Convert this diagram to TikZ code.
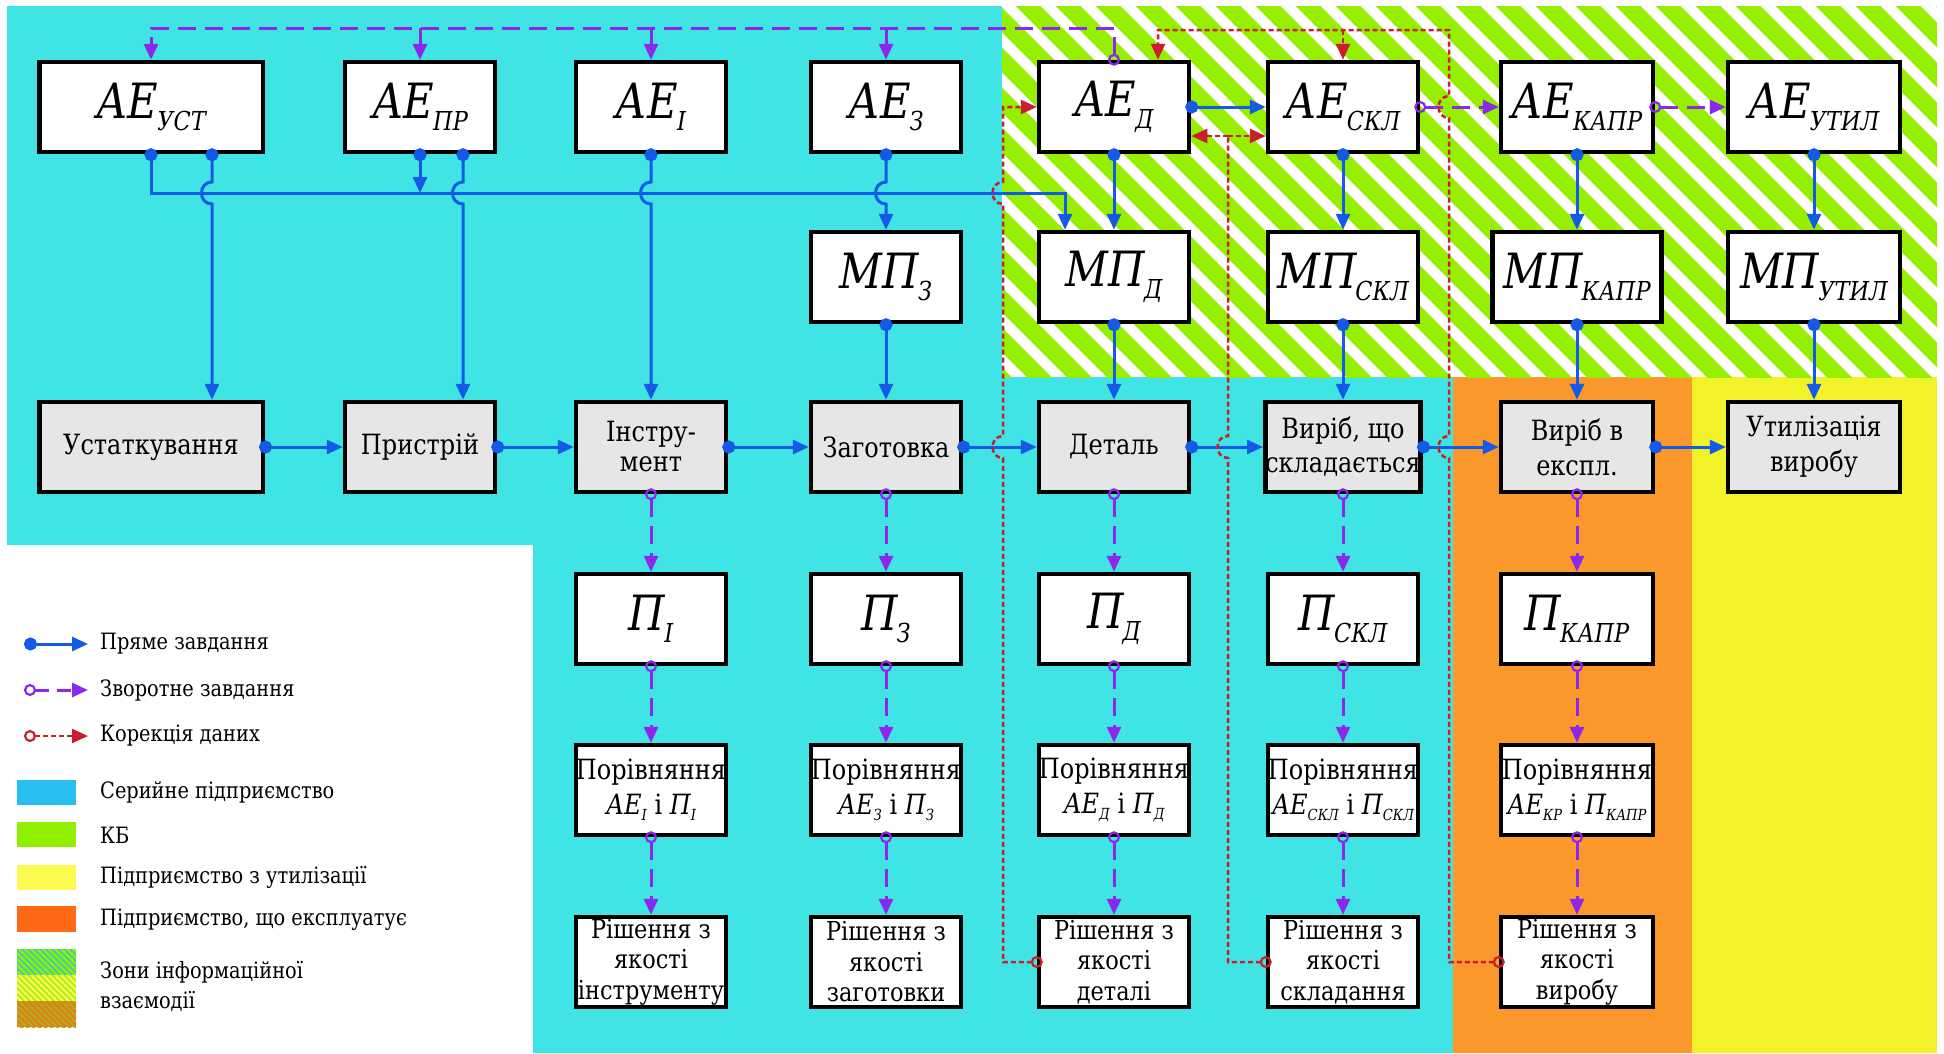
\documentclass[tikz,border=0pt]{standalone}
\usepackage{fontspec}
\setmainfont{DejaVu Serif}[Scale=0.9, FakeStretch=0.86]
\usetikzlibrary{arrows.meta,calc}

\definecolor{cyanbg}{RGB}{64,228,228}
\definecolor{hatchgreen}{RGB}{150,238,0}
\definecolor{orangebg}{RGB}{250,152,44}
\definecolor{yellowbg}{RGB}{242,242,42}
\definecolor{boxgrey}{RGB}{230,230,230}
\definecolor{linkblue}{RGB}{20,90,230}
\definecolor{linkpurple}{RGB}{140,40,235}
\definecolor{linkred}{RGB}{200,30,45}
\definecolor{legblue}{RGB}{40,190,240}
\definecolor{leggreen}{RGB}{145,240,0}
\definecolor{legyellow}{RGB}{250,250,80}
\definecolor{legorange}{RGB}{255,105,20}
\definecolor{legolive}{RGB}{175,170,30}

% large italic symbol with an italic index
\newcommand\bigidx[2]{{\fontsize{54}{54}\selectfont\itshape #1}\kern-1pt\raisebox{-12pt}{\fontsize{29}{29}\selectfont\itshape #2}}
% small italic symbol with an italic index
\newcommand\smallidx[2]{{\itshape #1}\raisebox{-6pt}{\fontsize{17}{17}\selectfont\itshape #2}}

\tikzset{
  bdot/.tip={Circle[length=13pt]},
  oring/.tip={Circle[open,length=12pt,line width=2.2pt]},
  thead/.tip={Triangle[length=16pt,width=14pt]},
}

\begin{document}
\begin{tikzpicture}[x=1pt,y=-1pt,
  box/.style={draw=black, line width=4.5pt, fill=white, minimum width=150pt,
    minimum height=90pt, inner sep=0pt, align=center, font=\fontsize{31}{35}\selectfont},
  procbox/.style={box, fill=boxgrey},
  decbox/.style={box, font=\fontsize{29}{30.5}\selectfont},
  legtext/.style={anchor=west, inner sep=0pt, font=\fontsize{25}{28}\selectfont},
  blueflow/.style={draw=linkblue, line width=3pt},
  purpleflow/.style={draw=linkpurple, line width=3pt, dash pattern=on 18pt off 9pt},
  purplesolid/.style={draw=linkpurple, line width=3pt},
  redflow/.style={draw=linkred, line width=2.5pt, dash pattern=on 5pt off 3pt},
  startpad/.style={shorten <=-6pt},
]
\useasboundingbox (0,0) rectangle (1944,1053);

% ---------- zones ----------
\fill[cyanbg] (7,6) -- (1002,6) -- (1002,377) -- (1453,377) -- (1453,1053)
  -- (533,1053) -- (533,545) -- (7,545) -- cycle;
\fill[orangebg] (1453,377) rectangle (1692,1053);
\fill[yellowbg] (1692,377) rectangle (1937,1053);
\begin{scope}
  \clip (1002,6) rectangle (1937,377);
  \fill[white] (1002,6) rectangle (1937,377);
  \foreach \i in {-12,...,25}
    \draw[hatchgreen, line width=17.5pt] ({1002+40*\i},-20) -- ++(440,440);
\end{scope}

% ---------- row 1: reference units ----------
\node[box, minimum width=223.5pt] (aeU) at (151,107) {\bigidx{АЕ}{УСТ}};
\node[box] (aePR) at (420,107) {\bigidx{АЕ}{ПР}};
\node[box] (aeI) at (651,107) {\bigidx{АЕ}{І}};
\node[box] (aeZ) at (886,107) {\bigidx{АЕ}{З}};
\node[box] (aeD) at (1114,107) {\bigidx{АЕ}{Д}};
\node[box] (aeS) at (1343,107) {\bigidx{АЕ}{СКЛ}};
\node[box, minimum width=152pt] (aeK) at (1577,107) {\bigidx{АЕ}{КАПР}};
\node[box, minimum width=172pt] (aeT) at (1814,107) {\bigidx{АЕ}{УТИЛ}};

% ---------- row 2: models ----------
\node[box] (mpZ) at (886,277) {\bigidx{МП}{З}};
\node[box] (mpD) at (1114,277) {\bigidx{МП}{Д}};
\node[box] (mpS) at (1343,277) {\bigidx{МП}{СКЛ}};
\node[box, minimum width=169pt] (mpK) at (1577,277) {\bigidx{МП}{КАПР}};
\node[box, minimum width=172pt] (mpT) at (1814,277) {\bigidx{МП}{УТИЛ}};

% ---------- row 3: objects ----------
\node[procbox, minimum width=223.5pt] (pU) at (151,447) {Устаткування};
\node[procbox] (pPR) at (420,447) {Пристрій};
\node[procbox] (pI) at (651,447) {Інстру-\\[-5pt]мент};
\node[procbox] (pZ) at (886,447) {Заготовка};
\node[procbox] (pD) at (1114,447) {Деталь};
\node[procbox] (pS) at (1343,447) {Виріб, що\\[-1pt]складається};
\node[procbox, minimum width=152pt] (pK) at (1577,447) {Виріб в\\експл.};
\node[procbox, minimum width=172pt] (pT) at (1814,447) {Утилізація\\виробу};

% ---------- row 4: parameters ----------
\node[box] (tI) at (651,619) {\bigidx{П}{І}};
\node[box] (tZ) at (886,619) {\bigidx{П}{З}};
\node[box] (tD) at (1114,619) {\bigidx{П}{Д}};
\node[box] (tS) at (1343,619) {\bigidx{П}{СКЛ}};
\node[box, minimum width=152pt] (tK) at (1577,619) {\bigidx{П}{КАПР}};

% ---------- row 5: comparisons ----------
\node[box] (cI) at (651,790) {Порівняння\\\smallidx{АЕ}{І} і \smallidx{П}{І}};
\node[box] (cZ) at (886,790) {Порівняння\\\smallidx{АЕ}{З} і \smallidx{П}{З}};
\node[box] (cD) at (1114,790) {Порівняння\\\smallidx{АЕ}{Д} і \smallidx{П}{Д}};
\node[box] (cS) at (1343,790) {Порівняння\\\smallidx{АЕ}{СКЛ} і \smallidx{П}{СКЛ}};
\node[box, minimum width=152pt] (cK) at (1577,790) {Порівняння\\\smallidx{АЕ}{КР} і \smallidx{П}{КАПР}};

% ---------- row 6: decisions ----------
\node[decbox] (dI) at (651,962) {Рішення з\\якості\\інструменту};
\node[decbox] (dZ) at (886,962) {Рішення з\\якості\\заготовки};
\node[decbox] (dD) at (1114,962) {Рішення з\\якості\\деталі};
\node[decbox] (dS) at (1343,962) {Рішення з\\якості\\складання};
\node[decbox, minimum width=152pt] (dK) at (1577,962) {Рішення з\\якості\\виробу};

% ---------- routing points ----------
\coordinate (busY) at (0,193);
\coordinate (topP) at (0,28);
\coordinate (topR) at (0,30);
\coordinate (busEnd) at ([xshift=-49pt]mpD.north);
\coordinate (uA) at ([xshift=61pt]aeU.south);
\coordinate (uB) at ([xshift=61pt]pU.north);
\coordinate (prA) at ([xshift=43pt]aePR.south);
\coordinate (prB) at ([xshift=43pt]pPR.north);
\coordinate (rA) at (1003,0);
\coordinate (rB) at (1228,0);
\coordinate (rC) at (1449,0);
\coordinate (rJ) at (1228,136);
\coordinate (rD) at ([xshift=44pt]aeD.north);

% ---------- direct tasks (blue) ----------
\draw[blueflow, bdot-thead, startpad] (aeU.south) -- (aeU.south |- busY)
  -- (busEnd |- busY) -- (busEnd);
\draw[blueflow, bdot-thead, startpad] (aePR.south) -- (aePR.south |- busY);
\draw[blueflow, bdot-thead, startpad] (uA) -- ($(uA |- busY)+(0,-11)$)
  .. controls +(-14,0) and +(-14,0) .. ($(uA |- busY)+(0,11)$) -- (uB);
\draw[blueflow, bdot-thead, startpad] (prA) -- ($(prA |- busY)+(0,-11)$)
  .. controls +(-14,0) and +(-14,0) .. ($(prA |- busY)+(0,11)$) -- (prB);
\draw[blueflow, bdot-thead, startpad] (aeI.south) -- ($(aeI.south |- busY)+(0,-11)$)
  .. controls +(-14,0) and +(-14,0) .. ($(aeI.south |- busY)+(0,11)$) -- (pI.north);
\draw[blueflow, bdot-thead, startpad] (aeZ.south) -- ($(aeZ.south |- busY)+(0,-11)$)
  .. controls +(-14,0) and +(-14,0) .. ($(aeZ.south |- busY)+(0,11)$) -- (mpZ.north);
\foreach \a/\b in {mpZ/pZ, aeD/mpD, mpD/pD, aeS/mpS, mpS/pS, aeK/mpK, mpK/pK, aeT/mpT, mpT/pT}
  \draw[blueflow, bdot-thead, startpad] (\a.south) -- (\b.north);
\foreach \a/\b in {pU/pPR, pPR/pI, pI/pZ, pZ/pD, pD/pS, pS/pK, pK/pT, aeD/aeS}
  \draw[blueflow, bdot-thead, startpad] (\a.east) -- (\b.west);

% ---------- inverse tasks (purple) ----------
\draw[purpleflow, oring-thead, startpad] (aeD.north) -- (aeD.north |- topP)
  -- (aeU.north |- topP) -- (aeU.north);
\foreach \n in {aePR, aeI, aeZ}
  \draw[purplesolid, -thead] (\n.north |- topP) -- (\n.north);
\draw[purpleflow, oring-thead, startpad] (aeS.east) -- (aeK.west);
\draw[purpleflow, oring-thead, startpad] (aeK.east) -- (aeT.west);
\foreach \a/\b in {pI/tI, tI/cI, cI/dI, pZ/tZ, tZ/cZ, cZ/dZ, pD/tD, tD/cD, cD/dD,
                   pS/tS, tS/cS, cS/dS, pK/tK, tK/cK, cK/dK}
  \draw[purpleflow, oring-thead, startpad] (\a.south) -- (\b.north);

% ---------- data correction (red) ----------
\draw[redflow, oring-thead, startpad] (dD.west) -- (dD.west -| rA)
  -- ($(rA |- pD.west)+(0,11)$) .. controls +(-14,0) and +(-14,0) .. ($(rA |- pD.west)+(0,-11)$)
  -- ($(rA |- busY)+(0,11)$) .. controls +(-14,0) and +(-14,0) .. ($(rA |- busY)+(0,-11)$)
  -- (rA |- aeD.west) -- (aeD.west);
\draw[redflow, oring-, startpad] (dS.west) -- (dS.west -| rB)
  -- ($(rB |- pS.west)+(0,11)$) .. controls +(-14,0) and +(-14,0) .. ($(rB |- pS.west)+(0,-11)$)
  -- (rJ);
\draw[redflow, -thead] (rJ) -- (aeD.east |- rJ);
\draw[redflow, -thead] (rJ) -- (aeS.west |- rJ);
\draw[redflow, oring-thead, startpad] (dK.west) -- (dK.west -| rC)
  -- ($(rC |- pK.west)+(0,11)$) .. controls +(-14,0) and +(-14,0) .. ($(rC |- pK.west)+(0,-11)$)
  -- ($(rC |- aeK.west)+(0,11)$) .. controls +(-14,0) and +(-14,0) .. ($(rC |- aeK.west)+(0,-11)$)
  -- (rC |- topR) -- (rD |- topR) -- (rD);
\draw[redflow, -thead] (aeS.north |- topR) -- (aeS.north);

% ---------- legend ----------
\coordinate (lgA1) at (24,644);  \coordinate (lgA2) at (88,644);
\coordinate (lgB1) at (24,690);  \coordinate (lgB2) at (88,690);
\coordinate (lgC1) at (24,736);  \coordinate (lgC2) at (88,736);
\draw[blueflow, bdot-thead] (lgA1) -- (lgA2);
\draw[draw=linkpurple, line width=3pt, dash pattern=on 14pt off 8pt, oring-thead] (lgB1) -- (lgB2);
\draw[redflow, oring-thead] (lgC1) -- (lgC2);
\node[legtext] (ltA) at (100,644) {Пряме завдання};
\node[legtext] (ltB) at (100,690) {Зворотне завдання};
\node[legtext] (ltC) at (100,736) {Корекція даних};

\fill[legblue] (17,780) rectangle (76,805);
\fill[leggreen] (17,822) rectangle (76,847);
\fill[legyellow] (17,865) rectangle (76,890);
\fill[legorange] (17,906) rectangle (76,932);
\begin{scope}
  \clip (17,949) rectangle (76,975);
  \fill[legblue] (17,949) rectangle (76,975);
  \foreach \k in {0,...,16} \draw[leggreen, line width=2.5pt] ({-20+6*\k},940) -- ++(45,45);
\end{scope}
\begin{scope}
  \clip (17,975) rectangle (76,1001);
  \fill[leggreen] (17,975) rectangle (76,1001);
  \foreach \k in {0,...,16} \draw[legyellow, line width=2.5pt] ({-20+6*\k},966) -- ++(45,45);
\end{scope}
\begin{scope}
  \clip (17,1001) rectangle (76,1027);
  \fill[legorange] (17,1001) rectangle (76,1027);
  \foreach \k in {0,...,16} \draw[legolive, line width=2.5pt] ({-20+6*\k},992) -- ++(45,45);
\end{scope}

\node[legtext] (ltD) at (100,792) {Серийне підприємство};
\node[legtext] (ltE) at (100,835) {КБ};
\node[legtext] (ltF) at (100,877) {Підприємство з утилізації};
\node[legtext] (ltG) at (100,920) {Підприємство, що експлуатує};
\node[legtext] (ltH) at (100,972) {Зони інформаційної};
\node[legtext] (ltI) at (100,1001) {взаємодії};
\end{tikzpicture}
\end{document}
